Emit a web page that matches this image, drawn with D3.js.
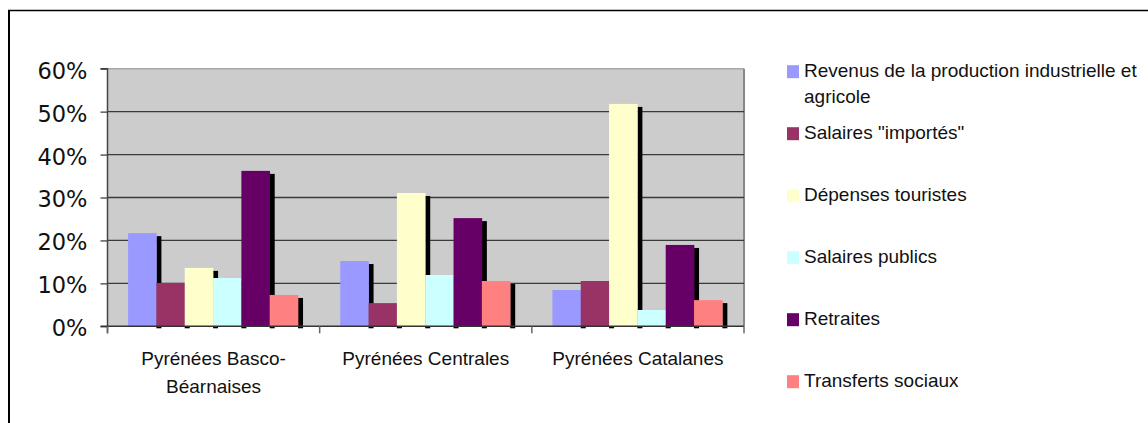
<!DOCTYPE html>
<html><head><meta charset="utf-8">
<script src="https://cdn.jsdelivr.net/npm/d3@7"></script>
<style>body{margin:0;background:#fff;}svg{display:block;}</style>
</head><body>
<svg id="c" width="1148" height="423"></svg>
<script>
const categories = [["Pyrénées Basco-","Béarnaises"],["Pyrénées Centrales"],["Pyrénées Catalanes"]];
const seriesNames = ["Revenus de la production industrielle et agricole","Salaires \"importés\"","Dépenses touristes","Salaires publics","Retraites","Transferts sociaux"];
const seriesColors = ["#9999FF","#993366","#FFFFCC","#CCFFFF","#660066","#FF8080"];
const revenus = [21.7, 15.2, 8.45];
const salairesImportes = [10.1, 5.4, 10.55];
const depensesTouristes = [13.6, 31.05, 51.8];
const salairesPublics = [11.25, 11.95, 3.8];
const retraites = [36.2, 25.2, 18.95];
const transferts = [7.3, 10.55, 6.1];
const yTicks = [0,10,20,30,40,50,60];

const seriesValues = [revenus, salairesImportes, depensesTouristes, salairesPublics, retraites, transferts];
const svg = d3.select("#c");
const L=107.5, R=744, T=68.7, B=326.3;
const catIdx = categories.map((d,i)=>i);
const x0 = d3.scaleBand().domain(catIdx).range([L,R]).padding(0);
const step = x0.bandwidth();
const x1 = d3.scaleBand().domain(d3.range(seriesNames.length)).range([step*0.097, step*0.898]).padding(0);
const y = d3.scaleLinear().domain([0,60]).range([B,T]);

// frame
svg.append("line").attr("x1",8).attr("x2",1148).attr("y1",10.5).attr("y2",10.5).attr("stroke","#000").attr("stroke-width",1.5);
svg.append("line").attr("x1",9).attr("x2",9).attr("y1",10).attr("y2",423).attr("stroke","#000").attr("stroke-width",2);

// plot bg
svg.append("rect").attr("x",L).attr("y",T).attr("width",R-L).attr("height",B-T).attr("fill","#cccccc");
svg.append("line").attr("x1",L).attr("x2",R).attr("y1",T).attr("y2",T).attr("stroke","#a8a8a8").attr("stroke-width",1.5);
svg.append("line").attr("x1",R).attr("x2",R).attr("y1",T).attr("y2",B).attr("stroke","#888").attr("stroke-width",2);

// gridlines
svg.append("g").selectAll("line").data(yTicks.filter(v=>v>0 && v<60)).join("line")
  .attr("x1",L).attr("x2",R).attr("y1",d=>y(d)).attr("y2",d=>y(d)).attr("stroke","#3a3a3a").attr("stroke-width",1.3);

// bars data
const bars = [];
seriesValues.forEach((vals,s)=>vals.forEach((v,c)=>bars.push({s,c,v})));
const g = svg.append("g");
g.selectAll("rect.sh").data(bars).join("rect").attr("class","sh")
  .attr("x",d=>x0(d.c)+x1(d.s)+x1.bandwidth()).attr("y",d=>y(d.v)+3)
  .attr("width",5).attr("height",d=>B-y(d.v)-1).attr("fill","#000");
g.selectAll("rect.b").data(bars).join("rect").attr("class","b")
  .attr("x",d=>x0(d.c)+x1(d.s)).attr("y",d=>y(d.v))
  .attr("width",x1.bandwidth()+0.3).attr("height",d=>B-y(d.v)).attr("fill",d=>seriesColors[d.s]);

// axes
const yAxis = d3.axisLeft(y).tickValues(yTicks).tickSize(7).tickPadding(13).tickFormat(d=>d+"%");
const ya = svg.append("g").attr("transform",`translate(${L},0)`).call(yAxis);
ya.select(".domain").attr("stroke","#444").attr("stroke-width",1.5).attr("d",`M-7,${T}H0V${B+7}`);
ya.selectAll(".tick line").attr("stroke","#444").attr("stroke-width",1.3);
ya.selectAll("text").attr("font-family","DejaVu Sans").attr("font-size","22.5px").attr("fill","#111").attr("dy","0.42em");

// baseline and category ticks
svg.append("line").attr("x1",L-7).attr("x2",R).attr("y1",B).attr("y2",B).attr("stroke","#333").attr("stroke-width",1.5);
const bounds = catIdx.map(i=>x0(i)).concat([R]);
svg.append("g").selectAll("line").data(bounds).join("line")
  .attr("x1",d=>d).attr("x2",d=>d).attr("y1",B).attr("y2",B+7).attr("stroke","#666").attr("stroke-width",1.5);

// category labels
const cl = svg.append("g").selectAll("text").data(categories).join("text")
  .attr("font-family","Liberation Sans").attr("font-size","19px").attr("fill","#111").attr("text-anchor","middle");
cl.each(function(lines,i){
  d3.select(this).selectAll("tspan").data(lines).join("tspan")
    .attr("x",x0(i)+step/2).attr("y",(d,j)=>365+j*28).text(d=>d);
});

// legend
const legendLines = [["Revenus de la production industrielle et","agricole"],["Salaires \"importés\""],["Dépenses touristes"],["Salaires publics"],["Retraites"],["Transferts sociaux"]];
const lg = svg.append("g").selectAll("g").data(legendLines).join("g")
  .attr("transform",(d,i)=>`translate(787,${76.7+i*62})`);
lg.append("rect").attr("x",0).attr("y",-11.5).attr("width",12).attr("height",13).attr("fill",(d,i)=>seriesColors[i]);
lg.append("text").attr("font-family","Liberation Sans").attr("font-size","19px").attr("fill","#111")
  .selectAll("tspan").data(d=>d).join("tspan").attr("x",17).attr("y",(d,j)=>j*26.5).text(d=>d);
</script>
</body></html>
